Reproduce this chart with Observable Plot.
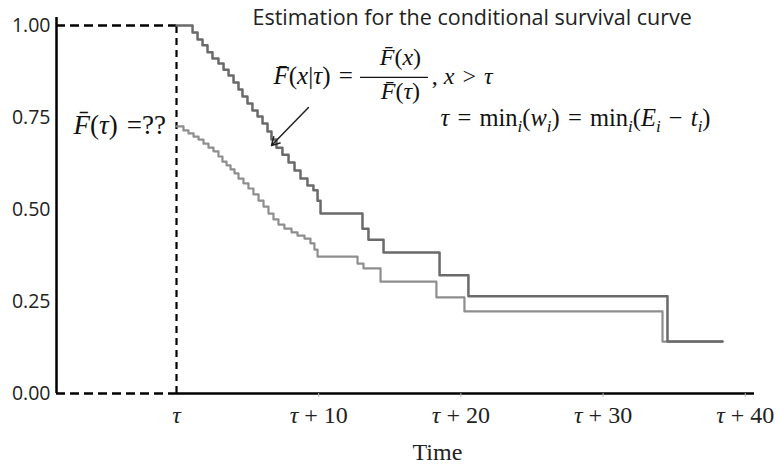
<!DOCTYPE html>
<html><head><meta charset="utf-8">
<script src="https://cdn.jsdelivr.net/npm/d3@7"></script>
<script src="https://cdn.jsdelivr.net/npm/@observablehq/plot@0.6"></script>
<style>body{margin:0;background:#fff;}</style>
</head><body><div id="chart"></div>
<script>
// Conditional survival curve F(x|tau) (upper) and survival F(x) (lower); time relative to tau
const upperT = [0, 1.13, 1.48, 1.83, 2.18, 2.53, 2.95, 3.31, 3.66, 4.01, 4.36, 4.64, 4.99, 5.34, 5.70, 6.05, 6.40, 6.68, 7.03, 7.45, 7.88, 8.30, 8.72, 9.21, 9.63, 9.92, 10.13, 13.08, 13.50, 14.56, 18.50, 20.53, 34.53, 38.40];
const upperS = [1.000, 0.981, 0.962, 0.946, 0.927, 0.910, 0.897, 0.880, 0.864, 0.845, 0.826, 0.807, 0.788, 0.769, 0.753, 0.734, 0.712, 0.690, 0.668, 0.649, 0.628, 0.606, 0.584, 0.565, 0.552, 0.524, 0.489, 0.448, 0.418, 0.383, 0.321, 0.264, 0.141, 0.141];
const lowerT = [0, 0.49, 0.84, 1.20, 1.55, 1.90, 2.25, 2.60, 2.95, 3.23, 3.52, 3.80, 4.08, 4.36, 4.71, 5.06, 5.41, 5.77, 6.12, 6.47, 6.82, 7.17, 7.59, 8.09, 8.51, 9.00, 9.42, 9.70, 9.92, 12.73, 13.15, 14.35, 18.28, 20.25, 34.18, 38.40];
const lowerS = [0.726, 0.715, 0.707, 0.698, 0.690, 0.679, 0.668, 0.658, 0.644, 0.630, 0.620, 0.609, 0.598, 0.584, 0.571, 0.557, 0.541, 0.524, 0.508, 0.489, 0.473, 0.459, 0.448, 0.438, 0.429, 0.421, 0.408, 0.391, 0.372, 0.353, 0.340, 0.304, 0.261, 0.223, 0.141, 0.141];

const yTicks = [0, 0.25, 0.5, 0.75, 1];
const yTickLabels = ["0.00", "0.25", "0.50", "0.75", "1.00"];
const xTicks = [0, 10, 20, 30, 40];
const xTickParts = [[["τ","i"]], [["τ","i"],[" + 10",""]], [["τ","i"],[" + 20",""]], [["τ","i"],[" + 30",""]], [["τ","i"],[" + 40",""]]];
const xMin = -8.44, xMax = 40.65;

const titleText = "Estimation for the conditional survival curve";
const xLabel = "Time";

const SP = "\u2004";
const eqMain = [["F\u0304","i"],["(",""],["x","i"],["|",""],["τ","i"],[")" + SP + "=",""]];
const eqNum = [["F\u0304","i"],["(",""],["x","i"],[")",""]];
const eqDen = [["F\u0304","i"],["(",""],["τ","i"],[")",""]];
const eqCond = [[", ",""],["x","i"],[SP + ">" + SP,""],["τ","i"]];
const eqTau = [["τ","i"],[SP + "=" + SP + "min",""],["i","sub"],["(",""],["w","i"],["i","sub"],[")" + SP + "=" + SP + "min",""],["i","sub"],["(",""],["E","i"],["i","sub"],[SP + "−" + SP,""],["t","i"],["i","sub"],[")",""]];
const eqQ = [["F\u0304","i"],["(",""],["τ","i"],[")" + SP + "=??",""]];
const annParts = [eqMain, eqNum, eqDen, eqCond, eqTau, eqQ];
const annX = [6.82, 15.75, 15.75, 17.95, 18.57, -7.24];
const annY = [0.840, 0.894, 0.799, 0.842, 0.728, 0.7065];
const annSize = [25, 24, 24, 24, 24.5, 27];

const fracX1 = [12.94], fracX2 = [17.72], fracY = [0.859];
const arrowX1 = [9.28], arrowY1 = [0.777], arrowX2 = [6.68], arrowY2 = [0.674];

const serif = "Liberation Serif";
const sans = "Open Sans";
const dashedH = "9,5", dashedV = "7,5";

const upper = upperT.map((t, i) => ({t, s: upperS[i]}));
const lower = lowerT.map((t, i) => ({t, s: lowerS[i]}));
const joinParts = p => p.map(d => d[0]).join("");
const idxA = [0, 3, 4, 5], idxB = [1, 2];

const chart = Plot.plot({
  width: 779, height: 465,
  marginLeft: 56, marginRight: 25, marginTop: 25, marginBottom: 72,
  x: {domain: [xMin, xMax], axis: null},
  y: {domain: [0, 1], axis: null},
  style: {fontFamily: sans, background: "white", color: "black", overflow: "visible"},
  marks: [
    Plot.ruleX([xMin], {y1: 0, y2: 1.022, stroke: "black", strokeWidth: 2.5}),
    Plot.ruleY([0], {x1: 0, x2: xMax, stroke: "black", strokeWidth: 2.5}),
    Plot.ruleY([0], {x1: xMin, x2: 0, stroke: "black", strokeWidth: 2.5, strokeDasharray: dashedH}),
    Plot.ruleY([1], {x1: xMin, x2: 0, stroke: "black", strokeWidth: 2.5, strokeDasharray: dashedH}),
    Plot.ruleX([0], {y1: 0, y2: 1, stroke: "black", strokeWidth: 2.2, strokeDasharray: dashedV}),
    Plot.ruleX(xTicks.slice(1), {y1: -0.011, y2: 0, stroke: "#bbb", strokeWidth: 1}),
    Plot.line(lower, {x: "t", y: "s", curve: "step-after", stroke: "#8e8e8e", strokeWidth: 2.2}),
    Plot.line(upper, {x: "t", y: "s", curve: "step-after", stroke: "#6a6a6a", strokeWidth: 2.5}),
    Plot.text(yTicks, {x: xMin, y: d => d, text: (d, i) => yTickLabels[i], textAnchor: "end", dx: -6, fontSize: 19.5, fontFamily: sans, fill: "#222"}),
    Plot.text(xTicks, {x: d => d, y: 0, text: (d, i) => joinParts(xTickParts[i]), lineAnchor: "bottom", dy: 29, fontSize: 24, fontFamily: serif, className: "xlab", fill: "#222"}),
    Plot.text([xLabel], {x: 18.35, y: -0.182, text: d => d, lineAnchor: "bottom", fontSize: 24, fontFamily: serif, fill: "#222"}),
    Plot.text([titleText], {x: 5.34, y: 1.0027, text: d => d, textAnchor: "start", lineAnchor: "bottom", fontSize: 21.5, fontFamily: sans, fill: "#222"}),
    Plot.text(idxA, {x: i => annX[i], y: i => annY[i], text: i => joinParts(annParts[i]), fontSize: i => annSize[i], textAnchor: "start", lineAnchor: "bottom", fontFamily: serif, className: "annA", fill: "#111"}),
    Plot.text(idxB, {x: i => annX[i], y: i => annY[i], text: i => joinParts(annParts[i]), fontSize: 24, textAnchor: "middle", lineAnchor: "bottom", fontFamily: serif, className: "annB", fill: "#111"}),
    Plot.ruleY(fracY, {x1: () => fracX1[0], x2: () => fracX2[0], y: d => d, stroke: "#111", strokeWidth: 1.3}),
    Plot.arrow([0], {x1: () => arrowX1[0], y1: () => arrowY1[0], x2: () => arrowX2[0], y2: () => arrowY2[0], stroke: "#222", strokeWidth: 1.5, headLength: 9})
  ]
});

function applyRich(svg, cls, partsList, sizes) {
  d3.select(svg).selectAll(`g.${cls} text`).each(function(_, i) {
    const parts = partsList[i];
    const fs = sizes[i];
    const t = d3.select(this);
    t.text(null);
    let shift = 0;
    for (const [s, st] of parts) {
      const ts = t.append("tspan").text(s);
      if (st === "i") ts.attr("font-style", "italic");
      if (st === "sub") {
        const d = Math.round(fs * 0.25);
        ts.attr("font-style", "italic").attr("font-size", Math.round(fs * 0.68)).attr("dy", d);
        shift = d;
      } else if (shift) {
        ts.attr("dy", -shift);
        shift = 0;
      }
    }
  });
}
applyRich(chart, "annA", idxA.map(i => annParts[i]), idxA.map(i => annSize[i]));
applyRich(chart, "annB", idxB.map(i => annParts[i]), idxB.map(i => annSize[i]));
applyRich(chart, "xlab", xTickParts, xTicks.map(() => 24));

document.getElementById("chart").appendChild(chart);
</script>
</body></html>
